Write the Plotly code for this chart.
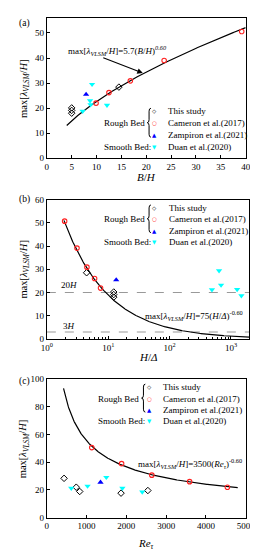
import numpy as np
import plotly.graph_objects as go

# ---------------- data ----------------
# Panel (a): B/H
a_this_x = [5.0, 5.0, 5.0, 14.5]
a_this_y = [20.1, 19.1, 18.0, 28.4]
a_cam_x = [9.9, 12.5, 16.8, 23.6, 39.2]
a_cam_y = [22.0, 26.2, 30.9, 39.0, 50.6]
a_zam_x = [7.9]
a_zam_y = [25.5]
a_duan_x = [7.2, 8.7, 8.8, 9.1, 12.1]
a_duan_y = [18.8, 23.0, 21.4, 29.5, 21.2]
a_coef, a_exp = 5.7, 0.60
a_fit_range = [4, 40]

# Panel (b): H/Delta
b_this_x = [4.45, 12.3, 12.3, 12.3]
b_this_y = [28.5, 20.2, 19.1, 18.0]
b_cam_x = [1.95, 3.1, 4.5, 6.0, 7.5]
b_cam_y = [50.7, 39.1, 30.9, 26.0, 21.9]
b_zam_x = [13.5]
b_zam_y = [25.4]
b_duan_x = [490, 640, 690, 1260, 1480]
b_duan_y = [21.2, 29.4, 23.2, 21.3, 18.6]
b_coef, b_exp = 75, -0.60
b_fit_range = [1.9, 2000]
b_ref_lines = [20, 3]
b_ref_labels = ["20<i>H</i>", "3<i>H</i>"]

# Panel (c): Re_tau
c_this_x = [433, 740, 827, 1866, 2540]
c_this_y = [28.4, 22.0, 18.9, 17.7, 19.6]
c_cam_x = [1130, 1880, 2640, 3590, 4540]
c_cam_y = [50.6, 39.0, 30.7, 26.0, 22.0]
c_zam_x = [1350]
c_zam_y = [25.5]
c_duan_x = [614, 1024, 1496, 1900, 2400]
c_duan_y = [21.3, 22.8, 29.1, 21.3, 18.6]
c_coef, c_exp = 3500, -0.60
c_fit_range = [420, 4800]

legend_names = ["This study", "Cameron et al.(2017)", "Zampiron et al.(2021)", "Duan et al.(2020)"]

# ---------------- layout helpers ----------------
W, H = 258, 550
FONT = "Liberation Serif"


def PX(x):
    return x / W


def PY(y):
    return 1 - y / H


fig = go.Figure()

styles = {
    "this": dict(symbol="diamond-open", size=5, color="black", line=dict(width=1, color="black")),
    "cam": dict(symbol="circle-open", size=4.5, color="#ff2020", line=dict(width=1.1, color="#ff2020")),
    "zam": dict(symbol="triangle-up", size=5.5, color="#0000ff"),
    "duan": dict(symbol="triangle-down", size=5.5, color="#00ffff"),
}


def add_panel(xa, ya, fit_x, fit_y, series):
    fig.add_trace(go.Scatter(x=fit_x, y=fit_y, mode="lines", line=dict(color="black", width=1.2),
                             xaxis=xa, yaxis=ya, showlegend=False, hoverinfo="skip"))
    for key, (xs, ys) in series:
        fig.add_trace(go.Scatter(x=xs, y=ys, mode="markers", marker=styles[key],
                                 xaxis=xa, yaxis=ya, showlegend=False))


# fits
fa_x = np.linspace(a_fit_range[0], a_fit_range[1], 200)
fa_y = a_coef * fa_x ** a_exp
fb_x = np.geomspace(b_fit_range[0], b_fit_range[1], 300)
fb_y = b_coef * fb_x ** b_exp
fc_x = np.linspace(c_fit_range[0], c_fit_range[1], 300)
fc_y = c_coef * fc_x ** c_exp

# reference dashed lines in (b)
for v in b_ref_lines:
    fig.add_trace(go.Scatter(x=[1, 2000], y=[v, v], mode="lines",
                             line=dict(color="#999999", width=1.1, dash="dash"),
                             xaxis="x2", yaxis="y2", showlegend=False, hoverinfo="skip"))

add_panel("x", "y", fa_x, fa_y, [("this", (a_this_x, a_this_y)), ("cam", (a_cam_x, a_cam_y)),
                                 ("zam", (a_zam_x, a_zam_y)), ("duan", (a_duan_x, a_duan_y))])
add_panel("x2", "y2", fb_x, fb_y, [("this", (b_this_x, b_this_y)), ("cam", (b_cam_x, b_cam_y)),
                                   ("zam", (b_zam_x, b_zam_y)), ("duan", (b_duan_x, b_duan_y))])
add_panel("x3", "y3", fc_x, fc_y, [("this", (c_this_x, c_this_y)), ("cam", (c_cam_x, c_cam_y)),
                                   ("zam", (c_zam_x, c_zam_y)), ("duan", (c_duan_x, c_duan_y))])

axis_common = dict(showline=True, linecolor="black", linewidth=1, mirror=True, ticks="inside",
                   ticklen=3, tickcolor="black", showgrid=False, zeroline=False,
                   tickfont=dict(family=FONT, size=9, color="black"))

dom_a = [PY(148), PY(5)]
dom_b = [PY(332), PY(190)]
dom_c = [PY(514), PY(373)]

log_minor = [m * 10 ** e for e in range(0, 4) for m in range(2, 10) if m * 10 ** e < 2000]

fig.update_layout(
    width=W, height=H, margin=dict(l=0, r=0, t=0, b=0),
    paper_bgcolor="white", plot_bgcolor="white", showlegend=False,
    font=dict(family=FONT, color="black"),
    xaxis=dict(domain=[PX(35), PX(247)], range=[0, 40], dtick=5, anchor="y", **axis_common),
    yaxis=dict(domain=dom_a, range=[0, 56], tickvals=[0, 10, 20, 30, 40, 50], anchor="x", **axis_common),
    xaxis2=dict(domain=[PX(35), PX(251)], type="log", range=[0, np.log10(2000)], anchor="y2",
                tickvals=[1, 10, 100, 1000],
                ticktext=["10<sup>0</sup>", "10<sup>1</sup>", "10<sup>2</sup>", "10<sup>3</sup>"],
                minor=dict(tickvals=log_minor, ticks="inside", ticklen=2, tickcolor="black", showgrid=False),
                **axis_common),
    yaxis2=dict(domain=dom_b, range=[0, 60], dtick=10, anchor="x2", **axis_common),
    xaxis3=dict(domain=[PX(35), PX(247)], range=[0, 5000], dtick=1000, anchor="y3", **axis_common),
    yaxis3=dict(domain=dom_c, range=[0, 100], dtick=20, anchor="x3", **axis_common),
)

ann = []
shapes = []


def text(x, y, s, size=10, xanchor="left", color="black", angle=0, family=FONT):
    ann.append(dict(x=PX(x), y=PY(y), xref="paper", yref="paper", text=s, showarrow=False,
                    xanchor=xanchor, yanchor="middle", textangle=angle,
                    font=dict(family=family, size=size, color=color)))


def brace(cx, yt, yb, w=4.0):
    ym = (yt + yb) / 2
    pts = lambda x, y: f"{PX(x):.5f},{PY(y):.5f}"
    path = (f"M {pts(cx + w / 2, yt)} Q {pts(cx, yt)} {pts(cx, yt + 3)} L {pts(cx, ym - 3)} "
            f"Q {pts(cx, ym)} {pts(cx - w / 2, ym)} Q {pts(cx, ym)} {pts(cx, ym + 3)} "
            f"L {pts(cx, yb - 3)} Q {pts(cx, yb)} {pts(cx + w / 2, yb)}")
    shapes.append(dict(type="path", path=path, xref="paper", yref="paper",
                       line=dict(color="black", width=1)))


ytitle = "max[<i>λ</i><sub><i>VLSM</i></sub>/<i>H</i>]"

# panel labels
text(3, 11, "(a)", 9.5)
text(3, 190, "(b)", 9.5)
text(3, 375, "(c)", 9.5)

# y titles
text(11, 77, ytitle, 10.5, xanchor="center", angle=-90)
text(11, 261, ytitle, 10.5, xanchor="center", angle=-90)
text(11, 444, ytitle, 10.5, xanchor="center", angle=-90)

# x titles
text(141, 167.5, "<i>B</i>/<i>H</i>", 11, xanchor="center")
text(143, 350, "<i>H</i>/<i>Δ</i>", 11, xanchor="center")
text(141, 541, "<i>Re</i><sub><i>τ</i></sub>", 11, xanchor="center")

# legends
sym_chars = ["◇", "○", "▲", "▼"]
sym_cols = ["black", "#ff2020", "#0000ff", "#00ffff"]


def legend_block(sym_x, text_x, ys, rough_x, brace_x):
    for i in range(4):
        text(sym_x, ys[i], sym_chars[i], 5.5, xanchor="center", color=sym_cols[i], family="DejaVu Sans")
        text(text_x, ys[i], legend_names[i], 9)
    text(rough_x, ys[1], "Rough Bed", 9)
    brace(brace_x, ys[0] - 3, ys[2] + 2)
    text(rough_x, ys[3], "Smooth Bed:", 9)


legend_block(150, 162, [100, 112.5, 124.5, 136.5], 94, 144)
legend_block(150, 163, [198.5, 210, 221.7, 233.3], 94, 144)
legend_block(144.5, 157, [381, 393.3, 404.5, 416], 87, 138)

# fit formulas
text(55, 38, "max[<i>λ</i><sub><i>VLSM</i></sub>/<i>H</i>]=5.7(<i>B</i>/<i>H</i>)<sup><i>0.60</i></sup>", 9)
text(137, 308, "max[<i>λ</i><sub><i>VLSM</i></sub>/<i>H</i>]=75(<i>H</i>/<i>Δ</i>)<sup>-0.60</sup>", 9)
text(130, 459, "max[<i>λ</i><sub><i>VLSM</i></sub>/<i>H</i>]=3500(<i>Re</i><sub><i>τ</i></sub>)<sup>-0.60</sup>", 9)

# reference line labels in (b)
text(48, 277, b_ref_labels[0], 9)
text(50, 319, b_ref_labels[1], 9)

# arrow in (a)
ann.append(dict(x=19.3, y=34.0, xref="x", yref="y", ax=-41, ay=-16, axref="pixel", ayref="pixel",
                text="", showarrow=True, arrowhead=2, arrowsize=1, arrowwidth=1.1, arrowcolor="black"))

fig.update_layout(annotations=ann, shapes=shapes)
fig.write_html("out.html")
